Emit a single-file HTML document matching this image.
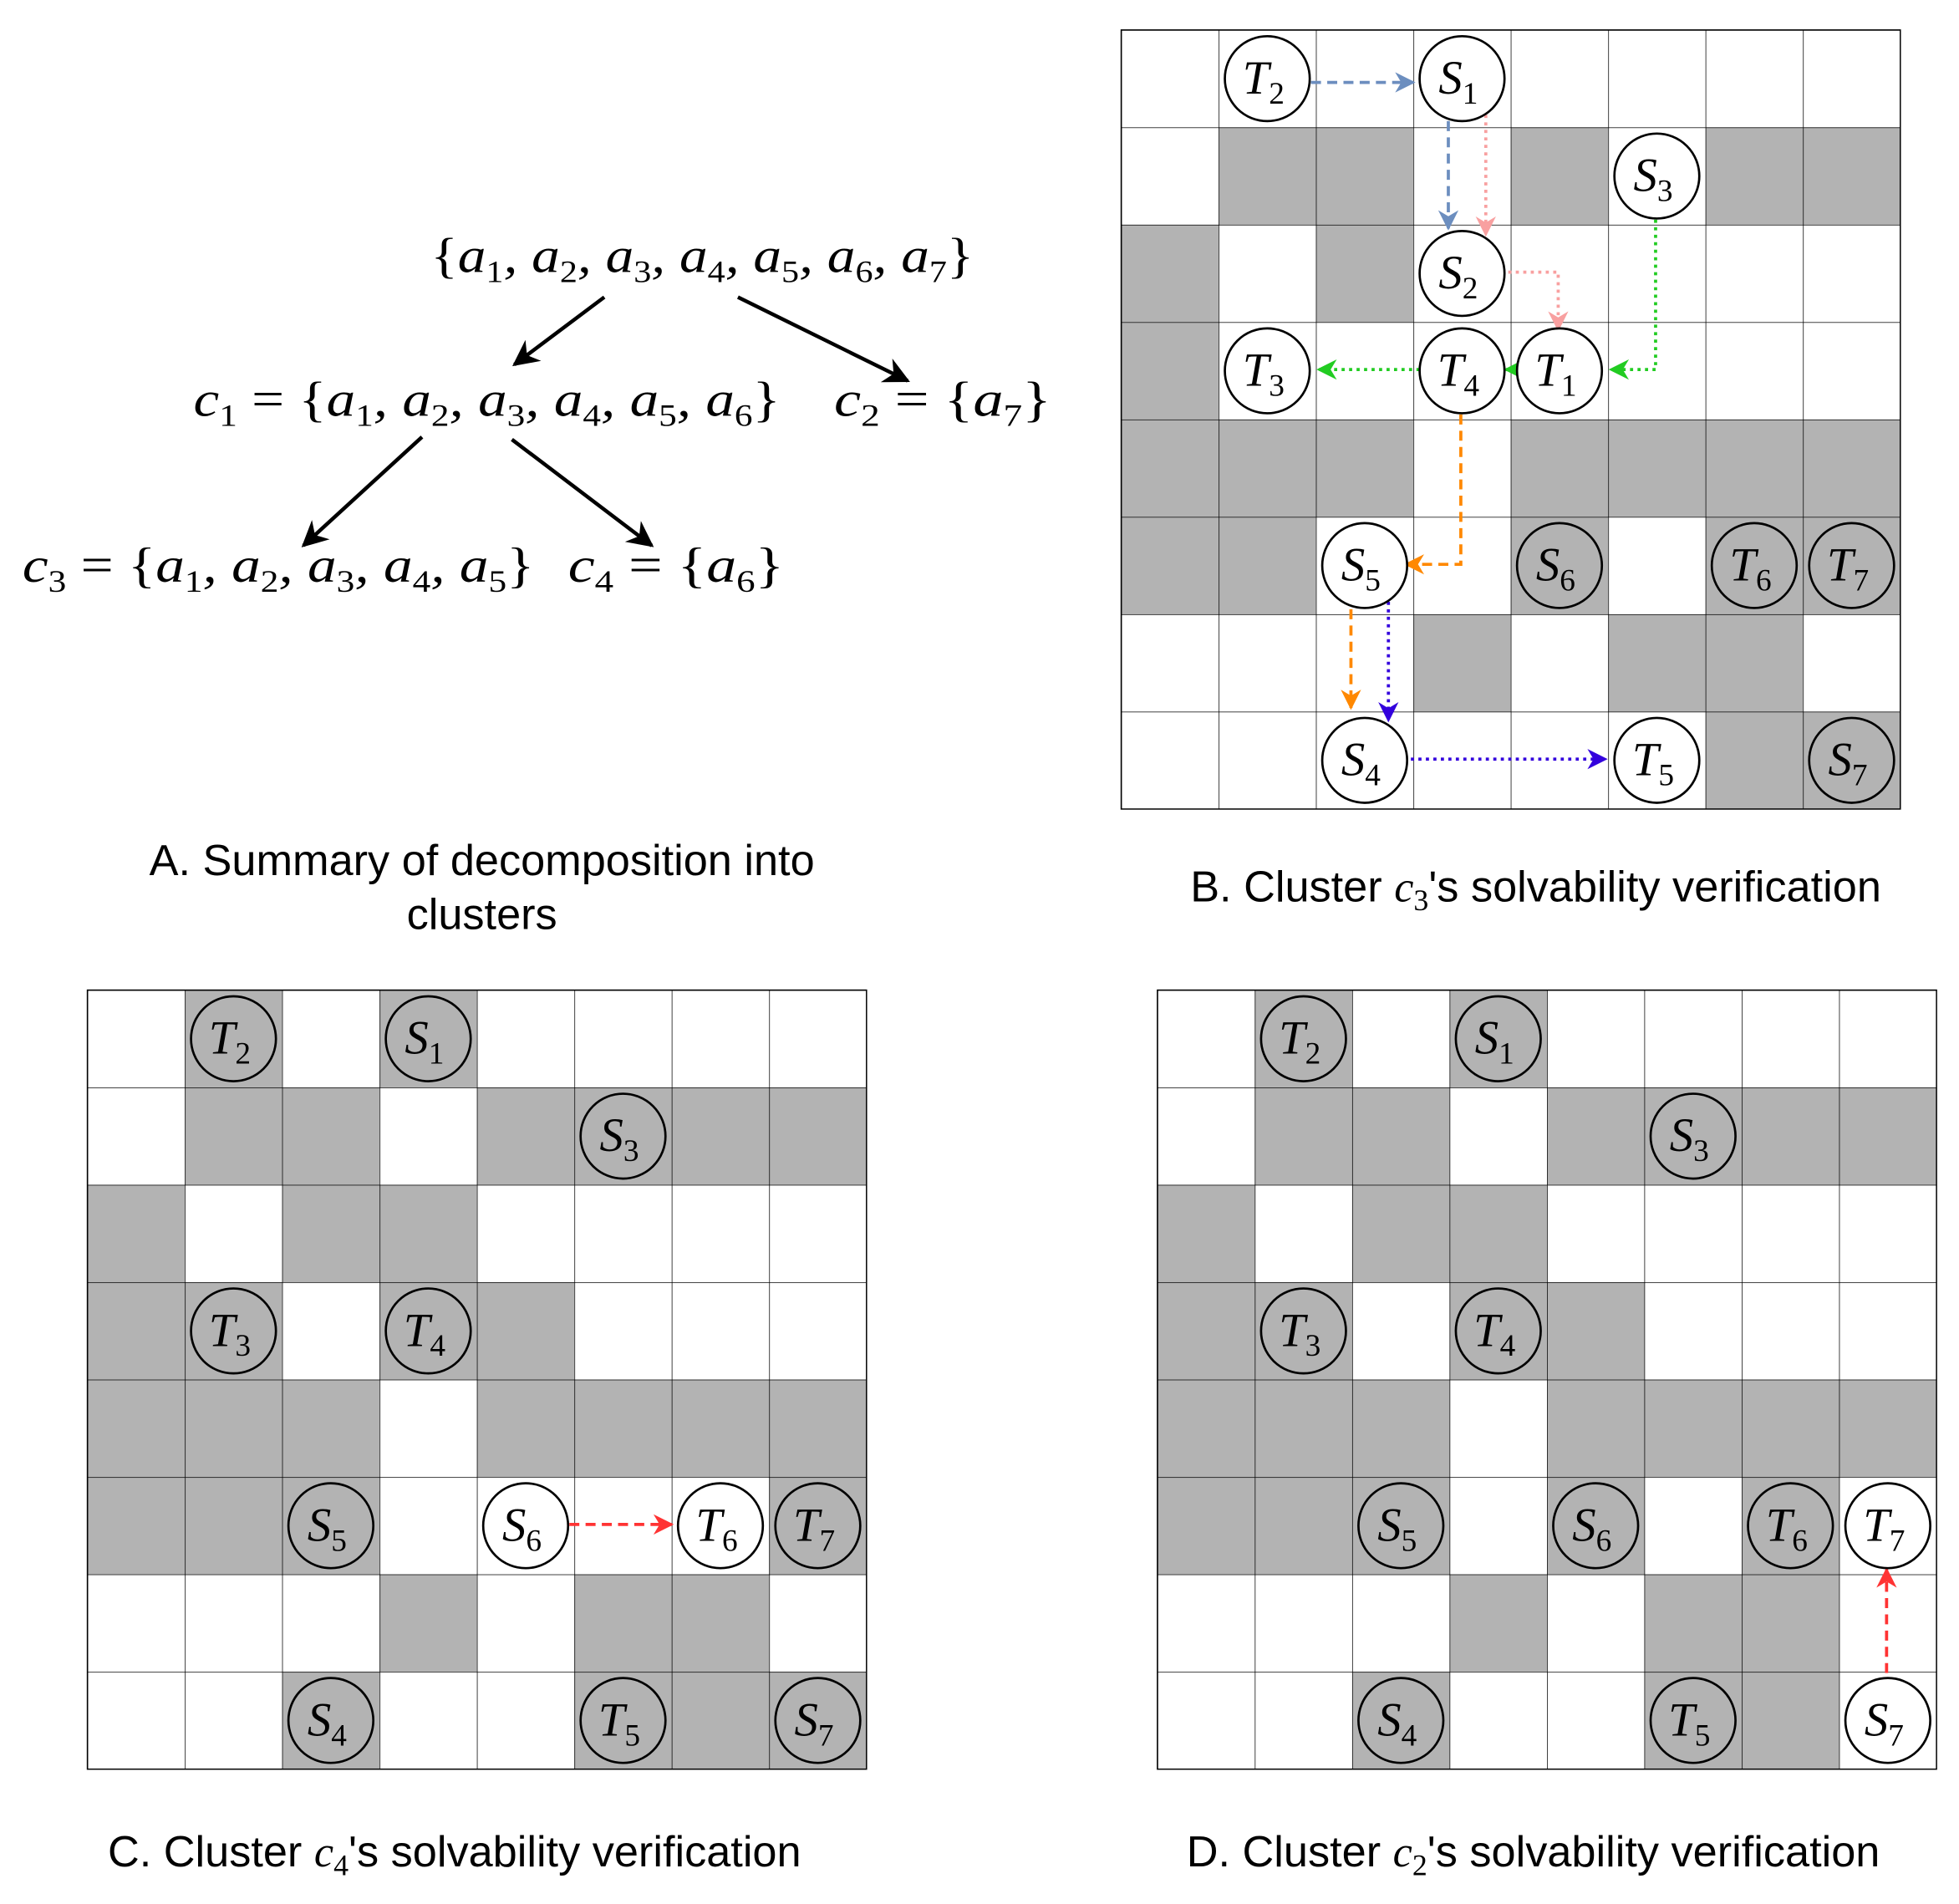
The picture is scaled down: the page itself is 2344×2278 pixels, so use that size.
<!DOCTYPE html>
<html><head><meta charset="utf-8"><style>
html,body{margin:0;padding:0;background:#fff}
svg{display:block}
.m{font-family:"Liberation Serif",serif;font-style:italic;font-size:40px;fill:#000}
.r{font-style:normal}
.n{font-family:"Liberation Serif",serif;font-style:italic;font-size:38px;fill:#000;text-anchor:middle}
.s{font-size:25px;font-style:normal}
.cap{font-family:"Liberation Sans",sans-serif;font-size:35px;fill:#000;text-anchor:middle}
.g{fill:#b3b3b3}
.c{stroke:#000;stroke-width:1.8}
</style></head><body>
<svg width="2344" height="2278" viewBox="0 0 1569 1525" preserveAspectRatio="none" xmlns="http://www.w3.org/2000/svg">
<defs>
<marker id="mk" viewBox="0 0 10 10" refX="9" refY="5" markerWidth="7" markerHeight="7" orient="auto"><path d="M0,0 L10,5 L0,10 L3,5z" fill="#000"/></marker>
<marker id="mb" viewBox="0 0 10 10" refX="9" refY="5" markerWidth="6.5" markerHeight="6.5" orient="auto"><path d="M0,0 L10,5 L0,10 L3,5z" fill="#6c8ebf"/></marker>
<marker id="mp" viewBox="0 0 10 10" refX="9" refY="5" markerWidth="6.5" markerHeight="6.5" orient="auto"><path d="M0,0 L10,5 L0,10 L3,5z" fill="#f8a0a0"/></marker>
<marker id="mg" viewBox="0 0 10 10" refX="9" refY="5" markerWidth="6.5" markerHeight="6.5" orient="auto"><path d="M0,0 L10,5 L0,10 L3,5z" fill="#22cc22"/></marker>
<marker id="mo" viewBox="0 0 10 10" refX="9" refY="5" markerWidth="6.5" markerHeight="6.5" orient="auto"><path d="M0,0 L10,5 L0,10 L3,5z" fill="#ff8800"/></marker>
<marker id="mv" viewBox="0 0 10 10" refX="9" refY="5" markerWidth="6.5" markerHeight="6.5" orient="auto"><path d="M0,0 L10,5 L0,10 L3,5z" fill="#3300dd"/></marker>
<marker id="mr" viewBox="0 0 10 10" refX="9" refY="5" markerWidth="6.5" markerHeight="6.5" orient="auto"><path d="M0,0 L10,5 L0,10 L3,5z" fill="#ff3333"/></marker>
<pattern id="grid" width="78" height="78" patternUnits="userSpaceOnUse"><path d="M78,0 L0,0 L0,78" fill="none" stroke="#000" stroke-width="1"/></pattern>
</defs>

<text class="m" x="345" y="218" textLength="435" lengthAdjust="spacingAndGlyphs"><tspan class="r">{</tspan>a<tspan class="s" dy="8">1</tspan><tspan dy="-8">, a</tspan><tspan class="s" dy="8">2</tspan><tspan dy="-8">, a</tspan><tspan class="s" dy="8">3</tspan><tspan dy="-8">, a</tspan><tspan class="s" dy="8">4</tspan><tspan dy="-8">, a</tspan><tspan class="s" dy="8">5</tspan><tspan dy="-8">, a</tspan><tspan class="s" dy="8">6</tspan><tspan dy="-8">, a</tspan><tspan class="s" dy="8">7</tspan><tspan class="r" dy="-8">}</tspan></text>
<text class="m" x="155" y="333" textLength="470" lengthAdjust="spacingAndGlyphs">c<tspan class="s" dy="8">1</tspan><tspan class="r" dy="-8"> = {</tspan>a<tspan class="s" dy="8">1</tspan><tspan dy="-8">, a</tspan><tspan class="s" dy="8">2</tspan><tspan dy="-8">, a</tspan><tspan class="s" dy="8">3</tspan><tspan dy="-8">, a</tspan><tspan class="s" dy="8">4</tspan><tspan dy="-8">, a</tspan><tspan class="s" dy="8">5</tspan><tspan dy="-8">, a</tspan><tspan class="s" dy="8">6</tspan><tspan class="r" dy="-8">}</tspan></text>
<text class="m" x="668" y="333" textLength="174" lengthAdjust="spacingAndGlyphs">c<tspan class="s" dy="8">2</tspan><tspan class="r" dy="-8"> = {</tspan>a<tspan class="s" dy="8">7</tspan><tspan class="r" dy="-8">}</tspan></text>
<text class="m" x="18" y="466" textLength="410" lengthAdjust="spacingAndGlyphs">c<tspan class="s" dy="8">3</tspan><tspan class="r" dy="-8"> = {</tspan>a<tspan class="s" dy="8">1</tspan><tspan dy="-8">, a</tspan><tspan class="s" dy="8">2</tspan><tspan dy="-8">, a</tspan><tspan class="s" dy="8">3</tspan><tspan dy="-8">, a</tspan><tspan class="s" dy="8">4</tspan><tspan dy="-8">, a</tspan><tspan class="s" dy="8">5</tspan><tspan class="r" dy="-8">}</tspan></text>
<text class="m" x="455" y="466" textLength="173" lengthAdjust="spacingAndGlyphs">c<tspan class="s" dy="8">4</tspan><tspan class="r" dy="-8"> = {</tspan>a<tspan class="s" dy="8">6</tspan><tspan class="r" dy="-8">}</tspan></text>
<g stroke="#000" stroke-width="3" marker-end="url(#mk)">
<line x1="484" y1="238" x2="412" y2="292"/>
<line x1="591" y1="238" x2="727" y2="305"/>
<line x1="338" y1="350" x2="243" y2="437"/>
<line x1="410" y1="352" x2="522" y2="437"/>
</g>
<text class="cap" x="386" y="701">A. Summary of decomposition into</text>
<text class="cap" x="386" y="744">clusters</text>

<g transform="translate(898,24)">
<rect width="624" height="624" fill="#fff"/>
<g class="g">
<rect x="78" y="78" width="156" height="78"/><rect x="312" y="78" width="78" height="78"/><rect x="468" y="78" width="156" height="78"/>
<rect x="0" y="156" width="78" height="78"/><rect x="156" y="156" width="78" height="78"/>
<rect x="0" y="234" width="78" height="78"/>
<rect x="0" y="312" width="234" height="78"/><rect x="312" y="312" width="312" height="78"/>
<rect x="0" y="390" width="156" height="78"/><rect x="312" y="390" width="78" height="78"/><rect x="468" y="390" width="156" height="78"/>
<rect x="234" y="468" width="78" height="78"/><rect x="390" y="468" width="156" height="78"/>
<rect x="468" y="546" width="156" height="78"/>
</g>
<rect width="624" height="624" fill="url(#grid)"/>
<rect width="624" height="624" fill="none" stroke="#000" stroke-width="1"/>
</g>
<g fill="none" stroke-width="2.5">
<line x1="1050" y1="66" x2="1132" y2="66" stroke="#6c8ebf" stroke-dasharray="8,5" marker-end="url(#mb)"/>
<line x1="1160" y1="97" x2="1160" y2="183" stroke="#6c8ebf" stroke-dasharray="8,5" marker-end="url(#mb)"/>
<line x1="1190" y1="92" x2="1190" y2="188" stroke="#f8a0a0" stroke-dasharray="2.5,3.5" marker-end="url(#mp)"/>
<polyline points="1208,218 1248,218 1248,264" stroke="#f8a0a0" stroke-dasharray="2.5,3.5" marker-end="url(#mp)"/>
<polyline points="1326,176 1326,296 1290,296" stroke="#22cc22" stroke-dasharray="2.5,3.5" marker-end="url(#mg)"/>
<line x1="1137" y1="296" x2="1056" y2="296" stroke="#22cc22" stroke-dasharray="2.5,3.5" marker-end="url(#mg)"/>
<line x1="1216" y1="296" x2="1206" y2="296" stroke="#22cc22" marker-end="url(#mg)"/>
<polyline points="1170,332 1170,452 1126,452" stroke="#ff8800" stroke-dasharray="8,5" marker-end="url(#mo)"/>
<line x1="1082" y1="488" x2="1082" y2="567" stroke="#ff8800" stroke-dasharray="8,5" marker-end="url(#mo)"/>
<line x1="1112" y1="482" x2="1112" y2="577" stroke="#3300dd" stroke-dasharray="2.5,3.5" marker-end="url(#mv)"/>
<line x1="1130" y1="608" x2="1286" y2="608" stroke="#3300dd" stroke-dasharray="2.5,3.5" marker-end="url(#mv)"/>
</g>
<g class="c">
<circle cx="1015" cy="63" r="34" fill="#fff"/><circle cx="1171" cy="63" r="34" fill="#fff"/>
<circle cx="1327" cy="141" r="34" fill="#fff"/><circle cx="1171" cy="219" r="34" fill="#fff"/>
<circle cx="1015" cy="297" r="34" fill="#fff"/><circle cx="1171" cy="297" r="34" fill="#fff"/><circle cx="1249" cy="297" r="34" fill="#fff"/>
<circle cx="1093" cy="453" r="34" fill="#fff"/><circle cx="1249" cy="453" r="34" fill="none"/><circle cx="1405" cy="453" r="34" fill="none"/><circle cx="1483" cy="453" r="34" fill="none"/>
<circle cx="1093" cy="609" r="34" fill="#fff"/><circle cx="1327" cy="609" r="34" fill="#fff"/><circle cx="1483" cy="609" r="34" fill="none"/>
</g>
<text class="n" x="1012" y="75">T<tspan class="s" dy="8">2</tspan></text>
<text class="n" x="1168" y="75">S<tspan class="s" dy="8">1</tspan></text>
<text class="n" x="1324" y="153">S<tspan class="s" dy="8">3</tspan></text>
<text class="n" x="1168" y="231">S<tspan class="s" dy="8">2</tspan></text>
<text class="n" x="1012" y="309">T<tspan class="s" dy="8">3</tspan></text>
<text class="n" x="1168" y="309">T<tspan class="s" dy="8">4</tspan></text>
<text class="n" x="1246" y="309">T<tspan class="s" dy="8">1</tspan></text>
<text class="n" x="1090" y="465">S<tspan class="s" dy="8">5</tspan></text>
<text class="n" x="1246" y="465">S<tspan class="s" dy="8">6</tspan></text>
<text class="n" x="1402" y="465">T<tspan class="s" dy="8">6</tspan></text>
<text class="n" x="1480" y="465">T<tspan class="s" dy="8">7</tspan></text>
<text class="n" x="1090" y="621">S<tspan class="s" dy="8">4</tspan></text>
<text class="n" x="1324" y="621">T<tspan class="s" dy="8">5</tspan></text>
<text class="n" x="1480" y="621">S<tspan class="s" dy="8">7</tspan></text>
<text class="cap" x="1230" y="722">B. Cluster <tspan font-family="Liberation Serif" font-style="italic">c</tspan><tspan font-family="Liberation Serif" font-size="24" dy="7">3</tspan><tspan dy="-7">'s solvability verification</tspan></text>

<g transform="translate(70,793)">
<rect width="624" height="624" fill="#fff"/>
<g class="g">
<rect x="78" y="0" width="78" height="78"/><rect x="234" y="0" width="78" height="78"/>
<rect x="78" y="78" width="156" height="78"/><rect x="312" y="78" width="312" height="78"/>
<rect x="0" y="156" width="78" height="78"/><rect x="156" y="156" width="156" height="78"/>
<rect x="0" y="234" width="156" height="78"/><rect x="234" y="234" width="156" height="78"/>
<rect x="0" y="312" width="234" height="78"/><rect x="312" y="312" width="312" height="78"/>
<rect x="0" y="390" width="234" height="78"/><rect x="546" y="390" width="78" height="78"/>
<rect x="234" y="468" width="78" height="78"/><rect x="390" y="468" width="156" height="78"/>
<rect x="156" y="546" width="78" height="78"/><rect x="390" y="546" width="234" height="78"/>
</g>
<rect width="624" height="624" fill="url(#grid)"/>
<rect width="624" height="624" fill="none" stroke="#000" stroke-width="1"/>
</g>
<g transform="translate(927,793)">
<rect width="624" height="624" fill="#fff"/>
<g class="g">
<rect x="78" y="0" width="78" height="78"/><rect x="234" y="0" width="78" height="78"/>
<rect x="78" y="78" width="156" height="78"/><rect x="312" y="78" width="312" height="78"/>
<rect x="0" y="156" width="78" height="78"/><rect x="156" y="156" width="156" height="78"/>
<rect x="0" y="234" width="156" height="78"/><rect x="234" y="234" width="156" height="78"/>
<rect x="0" y="312" width="234" height="78"/><rect x="312" y="312" width="312" height="78"/>
<rect x="0" y="390" width="234" height="78"/><rect x="312" y="390" width="78" height="78"/><rect x="468" y="390" width="78" height="78"/>
<rect x="234" y="468" width="78" height="78"/><rect x="390" y="468" width="156" height="78"/>
<rect x="156" y="546" width="78" height="78"/><rect x="390" y="546" width="156" height="78"/>
</g>
<rect width="624" height="624" fill="url(#grid)"/>
<rect width="624" height="624" fill="none" stroke="#000" stroke-width="1"/>
</g>

<g fill="none" stroke-width="2.5" stroke="#ff3333" stroke-dasharray="8,5">
<line x1="456" y1="1221" x2="538" y2="1221" marker-end="url(#mr)"/>
<line x1="1511" y1="1340" x2="1511" y2="1257" marker-end="url(#mr)"/>
</g>

<g class="c" fill="none">
<circle cx="187" cy="832" r="34"/><circle cx="343" cy="832" r="34"/><circle cx="499" cy="910" r="34"/>
<circle cx="187" cy="1066" r="34"/><circle cx="343" cy="1066" r="34"/>
<circle cx="265" cy="1222" r="34"/><circle cx="421" cy="1222" r="34" fill="#fff"/><circle cx="577" cy="1222" r="34" fill="#fff"/><circle cx="655" cy="1222" r="34"/>
<circle cx="265" cy="1378" r="34"/><circle cx="499" cy="1378" r="34"/><circle cx="655" cy="1378" r="34"/>
<circle cx="1044" cy="832" r="34"/><circle cx="1200" cy="832" r="34"/><circle cx="1356" cy="910" r="34"/>
<circle cx="1044" cy="1066" r="34"/><circle cx="1200" cy="1066" r="34"/>
<circle cx="1122" cy="1222" r="34"/><circle cx="1278" cy="1222" r="34"/><circle cx="1434" cy="1222" r="34"/><circle cx="1512" cy="1222" r="34" fill="#fff"/>
<circle cx="1122" cy="1378" r="34"/><circle cx="1356" cy="1378" r="34"/><circle cx="1512" cy="1378" r="34" fill="#fff"/>
</g>
<text class="n" x="184" y="844">T<tspan class="s" dy="8">2</tspan></text>
<text class="n" x="340" y="844">S<tspan class="s" dy="8">1</tspan></text>
<text class="n" x="496" y="922">S<tspan class="s" dy="8">3</tspan></text>
<text class="n" x="184" y="1078">T<tspan class="s" dy="8">3</tspan></text>
<text class="n" x="340" y="1078">T<tspan class="s" dy="8">4</tspan></text>
<text class="n" x="262" y="1234">S<tspan class="s" dy="8">5</tspan></text>
<text class="n" x="418" y="1234">S<tspan class="s" dy="8">6</tspan></text>
<text class="n" x="574" y="1234">T<tspan class="s" dy="8">6</tspan></text>
<text class="n" x="652" y="1234">T<tspan class="s" dy="8">7</tspan></text>
<text class="n" x="262" y="1390">S<tspan class="s" dy="8">4</tspan></text>
<text class="n" x="496" y="1390">T<tspan class="s" dy="8">5</tspan></text>
<text class="n" x="652" y="1390">S<tspan class="s" dy="8">7</tspan></text>

<text class="n" x="1041" y="844">T<tspan class="s" dy="8">2</tspan></text>
<text class="n" x="1197" y="844">S<tspan class="s" dy="8">1</tspan></text>
<text class="n" x="1353" y="922">S<tspan class="s" dy="8">3</tspan></text>
<text class="n" x="1041" y="1078">T<tspan class="s" dy="8">3</tspan></text>
<text class="n" x="1197" y="1078">T<tspan class="s" dy="8">4</tspan></text>
<text class="n" x="1119" y="1234">S<tspan class="s" dy="8">5</tspan></text>
<text class="n" x="1275" y="1234">S<tspan class="s" dy="8">6</tspan></text>
<text class="n" x="1431" y="1234">T<tspan class="s" dy="8">6</tspan></text>
<text class="n" x="1509" y="1234">T<tspan class="s" dy="8">7</tspan></text>
<text class="n" x="1119" y="1390">S<tspan class="s" dy="8">4</tspan></text>
<text class="n" x="1353" y="1390">T<tspan class="s" dy="8">5</tspan></text>
<text class="n" x="1509" y="1390">S<tspan class="s" dy="8">7</tspan></text>

<text class="cap" x="364" y="1495">C. Cluster <tspan font-family="Liberation Serif" font-style="italic">c</tspan><tspan font-family="Liberation Serif" font-size="24" dy="7">4</tspan><tspan dy="-7">'s solvability verification</tspan></text>
<text class="cap" x="1228" y="1495">D. Cluster <tspan font-family="Liberation Serif" font-style="italic">c</tspan><tspan font-family="Liberation Serif" font-size="24" dy="7">2</tspan><tspan dy="-7">'s solvability verification</tspan></text>
</svg>
</body></html>
